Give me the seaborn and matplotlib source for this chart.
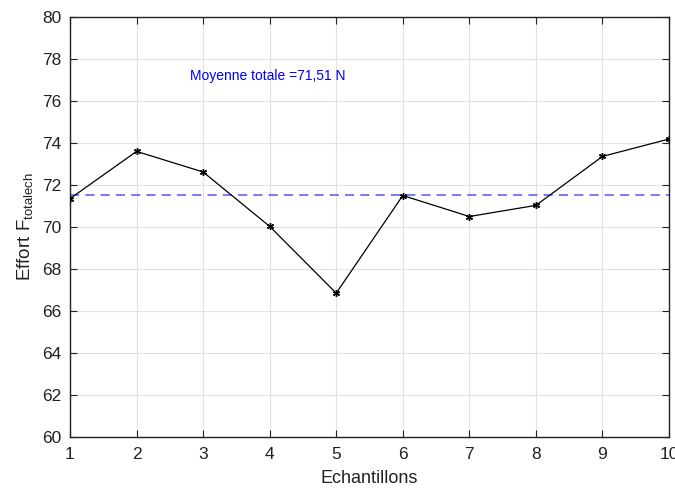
import matplotlib
matplotlib.use("Agg")
import matplotlib.pyplot as plt
import seaborn as sns
import pandas as pd

echantillons = [1, 2, 3, 4, 5, 6, 7, 8, 9, 10]
effort = [71.35, 73.6, 72.62, 70.03, 66.85, 71.5, 70.5, 71.03, 73.36, 74.19]
moyenne = 71.51
annotation = "Moyenne totale =71,51 N"
x_ticks = [1, 2, 3, 4, 5, 6, 7, 8, 9, 10]
y_ticks = [60, 62, 64, 66, 68, 70, 72, 74, 76, 78, 80]

sns.set_theme(style="white")
plt.rcParams['font.family'] = ['Liberation Sans', 'DejaVu Sans']
plt.rcParams['mathtext.default'] = 'regular'

df = pd.DataFrame({"Echantillons": echantillons, "Effort": effort})

fig = plt.figure(figsize=(6.75, 4.91), dpi=100)
ax = fig.add_axes([70/675, 1-437/491, 599/675, 420/491])

ax.grid(True, color="#e2e2e2", linewidth=0.8)
ax.set_axisbelow(True)

sns.lineplot(data=df, x="Echantillons", y="Effort", ax=ax, color="black",
             linewidth=0.9, marker=(6, 2, 0), markersize=5, markeredgewidth=1.0,
             markeredgecolor="black", zorder=3)
ax.axhline(moyenne, color="#5555ff", linestyle=(0, (6, 4)), linewidth=1.1, zorder=2)
ax.text(2.80, 77.2, annotation, color="blue", fontsize=10, va="center", ha="left")

ax.set_xlim(1, 10)
ax.set_ylim(60, 80)
ax.set_xticks(x_ticks)
ax.set_yticks(y_ticks)
ax.tick_params(axis="both", direction="in", length=5, width=0.8, labelsize=12.5,
               top=True, right=True, bottom=True, left=True, color="#222222",
               labelcolor="#222222")
ax.tick_params(axis="x", pad=7)
ax.tick_params(axis="y", pad=6)
for s in ax.spines.values():
    s.set_color("#222222")
    s.set_linewidth(1.0)
ax.set_xlabel("Echantillons", fontsize=13, color="#222222", labelpad=6)
ax.set_ylabel("Effort F$_{totalech}$", fontsize=13.5, color="#222222", labelpad=5)

fig.savefig("out.png", dpi=100)
